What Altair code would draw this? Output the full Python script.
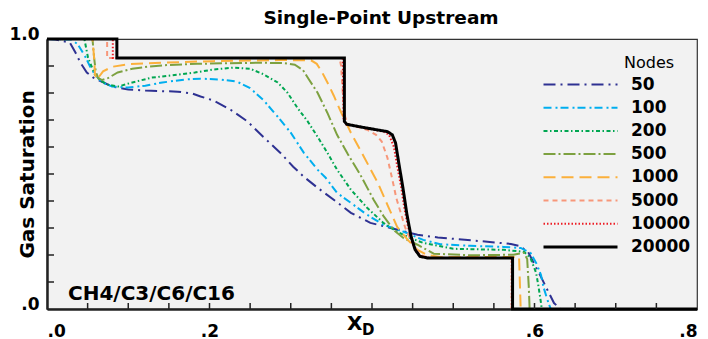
import altair as alt
import pandas as pd

FONT = "DejaVu Sans"

nodes = ["50", "100", "200", "500", "1000", "5000", "10000", "20000"]
colors = ["#2e3192", "#00aeef", "#00a651", "#7da140", "#fbb03b", "#f7977a", "#ed1c24", "#000000"]
dashes = [[12, 5, 2, 5], [8, 4, 2, 3], [4, 2.5, 1.5, 2.5], [12, 3, 2, 3], [12, 6], [5, 4], [1.5, 2], [1, 0]]

x50 = [0, 0.010, 0.028, 0.035, 0.041, 0.049, 0.057, 0.080, 0.100, 0.121, 0.161, 0.179, 0.189, 0.205, 0.226,
       0.247, 0.266, 0.287, 0.303, 0.316, 0.333, 0.355, 0.374, 0.398, 0.423, 0.456, 0.481, 0.542, 0.571, 0.581,
       0.592, 0.599, 0.608, 0.616, 0.624, 0.632, 0.8]
s50 = [1.0, 0.998, 0.987, 0.950, 0.913, 0.876, 0.857, 0.824, 0.813, 0.809, 0.805, 0.798, 0.787, 0.772, 0.738,
       0.694, 0.638, 0.579, 0.527, 0.490, 0.449, 0.400, 0.356, 0.319, 0.300, 0.275, 0.265, 0.249, 0.241, 0.234,
       0.212, 0.171, 0.119, 0.070, 0.022, 0.0, 0.0]

x100 = [0, 0.030, 0.038, 0.047, 0.053, 0.059, 0.068, 0.080, 0.100, 0.121, 0.142, 0.170, 0.189, 0.213, 0.234,
        0.250, 0.266, 0.284, 0.300, 0.316, 0.333, 0.343, 0.357, 0.374, 0.394, 0.414, 0.439, 0.463, 0.484, 0.521,
        0.562, 0.583, 0.595, 0.602, 0.608, 0.611, 0.616, 0.620, 0.8]
s100 = [1.0, 0.998, 0.980, 0.935, 0.898, 0.868, 0.839, 0.824, 0.820, 0.827, 0.839, 0.850, 0.853, 0.850, 0.842,
        0.818, 0.775, 0.712, 0.653, 0.579, 0.516, 0.486, 0.430, 0.393, 0.349, 0.312, 0.286, 0.256, 0.240, 0.234,
        0.230, 0.226, 0.208, 0.171, 0.126, 0.082, 0.033, 0.0, 0.0]

x200 = [0, 0.046, 0.0505, 0.0555, 0.059, 0.068, 0.075, 0.0875, 0.105, 0.129, 0.161, 0.182, 0.205, 0.229, 0.250,
        0.266, 0.284, 0.296, 0.308, 0.321, 0.333, 0.345, 0.357, 0.374, 0.394, 0.414, 0.431, 0.447, 0.463, 0.500,
        0.562, 0.587, 0.595, 0.602, 0.605, 0.608, 0.609, 0.8]
s200 = [1.0, 1.0, 0.931, 0.894, 0.868, 0.842, 0.831, 0.824, 0.839, 0.857, 0.868, 0.876, 0.887, 0.894, 0.890,
        0.870, 0.839, 0.801, 0.746, 0.694, 0.638, 0.579, 0.516, 0.442, 0.375, 0.319, 0.286, 0.263, 0.245, 0.223,
        0.219, 0.212, 0.189, 0.134, 0.082, 0.022, 0.0, 0.0]

x500 = [0, 0.056, 0.058, 0.060, 0.063, 0.068, 0.075, 0.087, 0.105, 0.125, 0.150, 0.185, 0.220, 0.260, 0.290,
        0.305, 0.315, 0.322, 0.333, 0.345, 0.357, 0.370, 0.386, 0.402, 0.414, 0.427, 0.439, 0.456, 0.476, 0.521,
        0.574, 0.587, 0.591, 0.593, 0.594, 0.8]
s500 = [1.0, 1.0, 0.93, 0.88, 0.855, 0.848, 0.855, 0.876, 0.890, 0.898, 0.904, 0.908, 0.910, 0.912, 0.911,
        0.905, 0.885, 0.852, 0.801, 0.727, 0.645, 0.575, 0.495, 0.405, 0.345, 0.292, 0.262, 0.238, 0.205, 0.199,
        0.201, 0.208, 0.185, 0.080, 0.0, 0.0]

x1000 = [0, 0.056, 0.058, 0.059, 0.061, 0.064, 0.069, 0.080, 0.102, 0.148, 0.205, 0.287, 0.325, 0.332, 0.338,
         0.345, 0.353, 0.361, 0.374, 0.390, 0.407, 0.419, 0.431, 0.444, 0.456, 0.468, 0.484, 0.581, 0.583, 0.8]
s1000 = [1.0, 1.0, 0.93, 0.87, 0.85, 0.86, 0.880, 0.897, 0.907, 0.913, 0.918, 0.922, 0.921, 0.908, 0.880,
         0.840, 0.790, 0.735, 0.653, 0.564, 0.468, 0.386, 0.304, 0.256, 0.219, 0.200, 0.193, 0.193, 0.0, 0.0]

x5000 = [0, 0.074, 0.074, 0.360, 0.362, 0.364, 0.366, 0.370, 0.394, 0.405, 0.412, 0.419, 0.425, 0.430, 0.436,
         0.441, 0.447, 0.453, 0.460, 0.470, 0.572, 0.572, 0.8]
s5000 = [1.0, 1.0, 0.930, 0.930, 0.90, 0.80, 0.72, 0.685, 0.664, 0.645, 0.62, 0.56, 0.48, 0.41, 0.35,
         0.30, 0.26, 0.225, 0.20, 0.19, 0.189, 0.0, 0.0]

x10000 = [0, 0.081, 0.081, 0.364, 0.365, 0.368, 0.390, 0.415, 0.421, 0.427, 0.431, 0.436, 0.440, 0.444, 0.449,
          0.455, 0.462, 0.472, 0.572, 0.572, 0.8]
s10000 = [1.0, 1.0, 0.930, 0.930, 0.70, 0.684, 0.672, 0.656, 0.645, 0.60, 0.53, 0.45, 0.37, 0.31, 0.25,
          0.21, 0.193, 0.189, 0.189, 0.0, 0.0]

x20000 = [0, 0.086, 0.086, 0.366, 0.366, 0.369, 0.390, 0.419, 0.425, 0.429, 0.433, 0.438, 0.443, 0.448, 0.453,
          0.459, 0.468, 0.573, 0.573, 0.8]
s20000 = [1.0, 1.0, 0.930, 0.930, 0.695, 0.684, 0.672, 0.657, 0.645, 0.615, 0.54, 0.45, 0.35, 0.27, 0.22,
          0.195, 0.189, 0.189, 0.0, 0.0]

xticks = [0.05, 0.10, 0.15, 0.20, 0.25, 0.30, 0.35, 0.40, 0.45, 0.50, 0.55, 0.60, 0.65, 0.70, 0.75]
yticks = [0.1, 0.2, 0.3, 0.4, 0.5, 0.6, 0.7, 0.8, 0.9]
xlabels = [0, 0.2, 0.6, 0.8]
ylabels = [0, 1]

series = {"50": (x50, s50), "100": (x100, s100), "200": (x200, s200), "500": (x500, s500),
          "1000": (x1000, s1000), "5000": (x5000, s5000), "10000": (x10000, s10000),
          "20000": (x20000, s20000)}

rows = []
for n in nodes:
    xs, ss = series[n]
    for i, (xv, sv) in enumerate(zip(xs, ss)):
        rows.append({"nodes": n, "x": xv, "s": sv, "i": i})
df = pd.DataFrame(rows)

W, H = 650, 270

xscale = alt.Scale(domain=[0, 0.8], nice=False, zero=False)
yscale = alt.Scale(domain=[0, 1], nice=False, zero=False)

xaxis = alt.Axis(values=xlabels, labelExpr="substring(format(datum.value, '.1f'), 1)",
                 ticks=False, grid=False, domainColor="#222", domainWidth=2.5,
                 labelFont=FONT, labelFontSize=17, labelFontWeight="bold", labelColor="black",
                 labelPadding=27, labelBaseline="alphabetic", title=None)
yaxis = alt.Axis(values=ylabels,
                 labelExpr="datum.value >= 1 ? format(datum.value, '.1f') : substring(format(datum.value, '.1f'), 1)",
                 ticks=False, grid=False, domainColor="#222", domainWidth=2.5,
                 labelFont=FONT, labelFontSize=17, labelFontWeight="bold", labelColor="black",
                 labelPadding=8, labelBaseline="alphabetic",
                 title="Gas Saturation", titleFont=FONT, titleFontSize=20, titleFontWeight="bold",
                 titleColor="black", titleX=-14, titleY=135, titleAngle=-90,
                 titleBaseline="alphabetic", titleAlign="center")

legend = alt.Legend(
    title=None, orient="none", legendX=525, legendY=37, padding=0,
    symbolType="stroke", symbolSize=5476,
    symbolStrokeWidth=alt.ExprRef("datum.value === '20000' ? 3 : 2"),
    labelFont=FONT, labelFontSize=17, labelFontWeight="bold", labelColor="black",
    labelOffset=42, rowPadding=5.2,
)

lines = alt.Chart(df).mark_line().encode(
    x=alt.X("x:Q", scale=xscale, axis=xaxis),
    y=alt.Y("s:Q", scale=yscale, axis=yaxis),
    color=alt.Color("nodes:N", sort=nodes, scale=alt.Scale(domain=nodes, range=colors), legend=legend),
    strokeDash=alt.StrokeDash("nodes:N", sort=nodes, scale=alt.Scale(domain=nodes, range=dashes), legend=legend),
    strokeWidth=alt.condition(alt.datum.nodes == "20000", alt.value(3), alt.value(2)),
    order=alt.Order("i:Q"),
)

xt = alt.Chart(pd.DataFrame({"t": xticks})).mark_rule(color="#222", strokeWidth=1.5).encode(
    x=alt.X("t:Q", scale=xscale, axis=xaxis), y=alt.value(H - 6), y2=alt.value(H))
yt = alt.Chart(pd.DataFrame({"t": yticks})).mark_rule(color="#222", strokeWidth=1.5).encode(
    y=alt.Y("t:Q", scale=yscale, axis=yaxis), x=alt.value(0), x2=alt.value(7))


def label(txt, x, y, size, weight="bold", align="left"):
    return alt.Chart(pd.DataFrame({"t": [txt]})).mark_text(
        font=FONT, fontSize=size, fontWeight=weight, align=align, baseline="alphabetic", color="black"
    ).encode(text="t:N", x=alt.value(x), y=alt.value(y))


title = label("Single-Point Upstream", 334, -15, 18.5, align="center")
comp = label("CH4/C3/C6/C16", 21, 261, 20)
nodes_t = label("Nodes", 577, 29, 16, weight="normal")
xt1 = label("X", 300, 291, 20)
xt2 = label("D", 315, 296, 15)

chart = alt.layer(lines, xt, yt, title, comp, nodes_t, xt1, xt2).properties(
    width=W, height=H, autosize="none",
    padding={"left": 47, "top": 39, "right": 11, "bottom": 30},
).configure_view(fill="#f2f2f2", stroke="#333", strokeWidth=1.2)

chart.save("out.html", embed_options={"renderer": "svg", "actions": False})
